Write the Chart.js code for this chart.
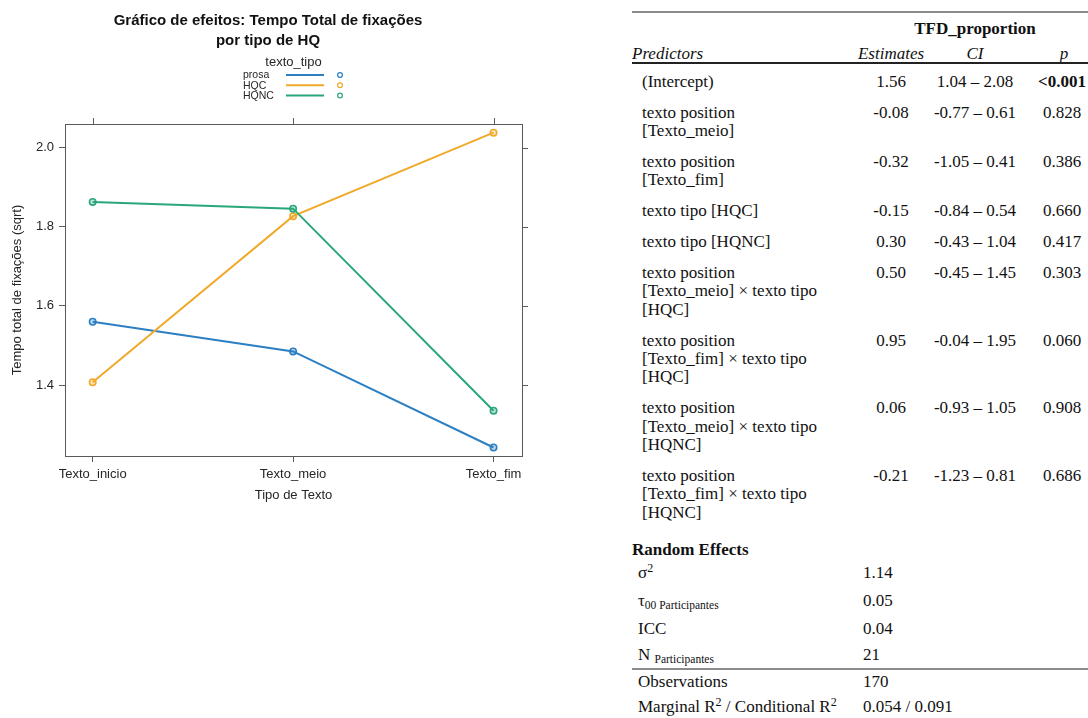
<!DOCTYPE html>
<html><head><meta charset="utf-8">
<script src="https://cdn.jsdelivr.net/npm/chart.js@4.4.1/dist/chart.umd.min.js"></script>
<style>
html,body{margin:0;padding:0;background:#fff;width:1088px;height:718px;overflow:hidden;}
#chartBox{position:absolute;left:0;top:0;width:600px;height:530px;}
.t{position:absolute;font-family:"Liberation Serif","Times New Roman",serif;font-size:17px;color:#111;white-space:nowrap;line-height:18.3px;}
.b{font-weight:bold;}
.i{font-style:italic;}
.rule{position:absolute;left:632px;width:456px;}
sup{font-size:12px;position:relative;top:-6px;vertical-align:baseline;line-height:0;}
sub{font-size:11.5px;position:relative;top:3px;vertical-align:baseline;line-height:0;}
</style>
</head><body>
<div id="chartBox"><canvas id="c" width="600" height="530"></canvas></div>
<div id="table"></div>
<script>
// ---- chart data ----
const categories = ["Texto_inicio", "Texto_meio", "Texto_fim"];
const seriesNames = ["prosa", "HQC", "HQNC"];
const prosa = [1.560, 1.485, 1.242];
const hqc = [1.407, 1.827, 2.038];
const hqnc = [1.863, 1.846, 1.335];
const yTicks = [1.4, 1.6, 1.8, 2.0];
const chartTitle = ["Gráfico de efeitos: Tempo Total de fixações", "por tipo de HQ"];
const legendTitle = "texto_tipo";
const xTitle = "Tipo de Texto";
const yTitle = "Tempo total de fixações (sqrt)";

// ---- table data ----
const tableTitle = "TFD_proportion";
const headers = ["Predictors", "Estimates", "CI", "p"];
const predictors = [
  ["(Intercept)"],
  ["texto position", "[Texto_meio]"],
  ["texto position", "[Texto_fim]"],
  ["texto tipo [HQC]"],
  ["texto tipo [HQNC]"],
  ["texto position", "[Texto_meio] × texto tipo", "[HQC]"],
  ["texto position", "[Texto_fim] × texto tipo", "[HQC]"],
  ["texto position", "[Texto_meio] × texto tipo", "[HQNC]"],
  ["texto position", "[Texto_fim] × texto tipo", "[HQNC]"]
];
const estimates = ["1.56", "-0.08", "-0.32", "-0.15", "0.30", "0.50", "0.95", "0.06", "-0.21"];
const ciLow = ["1.04", "-0.77", "-1.05", "-0.84", "-0.43", "-0.45", "-0.04", "-0.93", "-1.23"];
const ciHigh = ["2.08", "0.61", "0.41", "0.54", "1.04", "1.45", "1.95", "1.05", "0.81"];
const pValues = ["<0.001", "0.828", "0.386", "0.660", "0.417", "0.303", "0.060", "0.908", "0.686"];
const randomTitle = "Random Effects";
const randomLabels = ["σ<sup>2</sup>", "τ<sub>00 Participantes</sub>", "ICC", "N <sub>Participantes</sub>"];
const randomValues = ["1.14", "0.05", "0.04", "21"];
const fitLabels = ["Observations", "Marginal R<sup>2</sup> / Conditional R<sup>2</sup>"];
const fitValues = ["170", "0.054 / 0.091"];

// ---- chart ----
const colors = ["#2b7fc2", "#f0a92a", "#2aa779"];
const fills = ["rgba(43,127,194,0.3)", "rgba(240,169,42,0.3)", "rgba(42,167,121,0.3)"];
const seriesValues = [prosa, hqc, hqnc];
const textColor = "#262626";
const sansFont = '"Liberation Sans", Arial, Helvetica, sans-serif';

const decor = {
  id: "decor",
  beforeDatasetsDraw(chart) {
    const {ctx, chartArea: a, scales: {x, y}} = chart;
    ctx.save();
    ctx.strokeStyle = "#5a5a5a";
    ctx.lineWidth = 1;
    ctx.strokeRect(Math.round(a.left) + 0.5, Math.round(a.top) + 0.5, Math.round(a.right - a.left), Math.round(a.bottom - a.top));
    ctx.beginPath();
    x.ticks.forEach(t => {
      const px = Math.round(x.getPixelForValue(t.value)) + 0.5;
      ctx.moveTo(px, a.top); ctx.lineTo(px, a.top - 6);
    });
    y.ticks.forEach(t => {
      const py = Math.round(y.getPixelForValue(t.value)) + 0.5;
      ctx.moveTo(a.right, py); ctx.lineTo(a.right + 6, py);
    });
    ctx.stroke();
    ctx.restore();
  },
  afterDraw(chart) {
    const {ctx} = chart;
    ctx.save();
    ctx.fillStyle = "#111";
    ctx.textAlign = "center";
    ctx.textBaseline = "middle";
    ctx.font = "bold 15px " + sansFont;
    ctx.fillText(chartTitle[0], 268, 21);
    ctx.fillText(chartTitle[1], 268, 40.5);
    ctx.fillStyle = textColor;
    ctx.font = "13px " + sansFont;
    ctx.fillText(legendTitle, 293.5, 62);
    ctx.font = "10.5px " + sansFont;
    ctx.textAlign = "left";
    chart.data.datasets.forEach((ds, i) => {
      const yy = 75 + i * 10.3;
      ctx.fillStyle = textColor;
      ctx.fillText(ds.label, 243, yy + 0.5);
      ctx.strokeStyle = ds.borderColor;
      ctx.lineWidth = 2;
      ctx.beginPath(); ctx.moveTo(286, yy); ctx.lineTo(324, yy); ctx.stroke();
      ctx.lineWidth = 1.2;
      ctx.beginPath(); ctx.arc(340, yy, 2.4, 0, Math.PI * 2); ctx.stroke();
    });
    ctx.restore();
  }
};

new Chart(document.getElementById("c"), {
  type: "line",
  data: {
    datasets: seriesNames.map((name, i) => ({
      label: name,
      data: seriesValues[i].map((v, j) => ({x: j, y: v})),
      borderColor: colors[i],
      backgroundColor: fills[i],
      pointBackgroundColor: fills[i],
      pointBorderColor: colors[i],
      pointRadius: 3.2,
      pointBorderWidth: 1.6,
      borderWidth: 2,
      tension: 0,
      order: 3 - i
    }))
  },
  options: {
    responsive: false,
    animation: false,
    events: [],
    layout: {padding: {top: 124, left: 0, right: 78, bottom: 14}},
    plugins: {legend: {display: false}, tooltip: {enabled: false}, title: {display: false}},
    scales: {
      x: {
        type: "linear",
        min: -0.138, max: 2.142,
        afterBuildTicks: s => { s.ticks = categories.map((c, i) => ({value: i})); },
        afterFit: s => { s.height = 60; },
        ticks: {callback: v => categories[v], color: textColor, font: {size: 13, family: sansFont}, padding: 5, maxRotation: 0, autoSkip: false},
        grid: {drawOnChartArea: false, drawTicks: true, tickLength: 6, color: "#5a5a5a"},
        border: {display: false},
        title: {display: true, text: xTitle, color: textColor, font: {size: 13, family: sansFont}, padding: {top: 0, bottom: 13}}
      },
      y: {
        type: "linear",
        min: 1.2205, max: 2.06,
        afterBuildTicks: s => { s.ticks = yTicks.map(v => ({value: v})); },
        afterFit: s => { s.width = 65; },
        ticks: {callback: v => v.toFixed(1), color: textColor, font: {size: 13, family: sansFont}, padding: 5},
        grid: {drawOnChartArea: false, drawTicks: true, tickLength: 6, color: "#5a5a5a"},
        border: {display: false},
        title: {display: true, text: yTitle, color: textColor, font: {size: 13, family: sansFont}, padding: {top: 9.5, bottom: 0}}
      }
    }
  },
  plugins: [decor]
});

// ---- table ----
const tbl = document.getElementById("table");
const LH = 18.3;
function place(html, x, yc, align, cls) {
  const d = document.createElement("div");
  d.className = "t " + (cls || "");
  d.innerHTML = html;
  d.style.top = (yc - LH / 2) + "px";
  if (align === "left") d.style.left = x + "px";
  else if (align === "right") { d.style.right = (1088 - x) + "px"; }
  else { d.style.left = x + "px"; d.style.transform = "translateX(-50%)"; }
  tbl.appendChild(d);
}
function rule(y, h, color) {
  const d = document.createElement("div");
  d.className = "rule";
  d.style.top = y + "px"; d.style.height = h + "px"; d.style.background = color;
  tbl.appendChild(d);
}
const colEst = 891, colCI = 975, colP = 1062, colLabel = 642, colRand = 863;
rule(11, 2, "#8c8c8c");
place(tableTitle, colCI, 29, "center", "b");
place(headers[0], 632, 54, "left", "i");
place(headers[1], colEst, 54, "center", "i");
place(headers[2], colCI, 54, "center", "i");
place(headers[3], colP + 2, 54, "center", "i");
rule(62, 1.6, "#222");
let yc = 81.7;
predictors.forEach((lines, r) => {
  place(lines.join("<br>"), colLabel, yc, "left", "");
  place(estimates[r], colEst, yc, "center", "");
  place(ciLow[r] + " – " + ciHigh[r], colCI, yc, "center", "");
  place(pValues[r], colP, yc, "center", pValues[r] === "<0.001" ? "b" : "");
  yc += 31 + LH * (lines.length - 1);
});
place(randomTitle, 632, 550.5, "left", "b");
const randY = [573, 601, 629, 655];
randomLabels.forEach((lab, i) => {
  place(lab, 638, randY[i], "left", "");
  place(randomValues[i], colRand, randY[i], "left", "");
});
rule(667.5, 2, "#8c8c8c");
const fitY = [682, 707];
fitLabels.forEach((lab, i) => {
  place(lab, 638, fitY[i], "left", "");
  place(fitValues[i], colRand, fitY[i], "left", "");
});
</script>
</body></html>
